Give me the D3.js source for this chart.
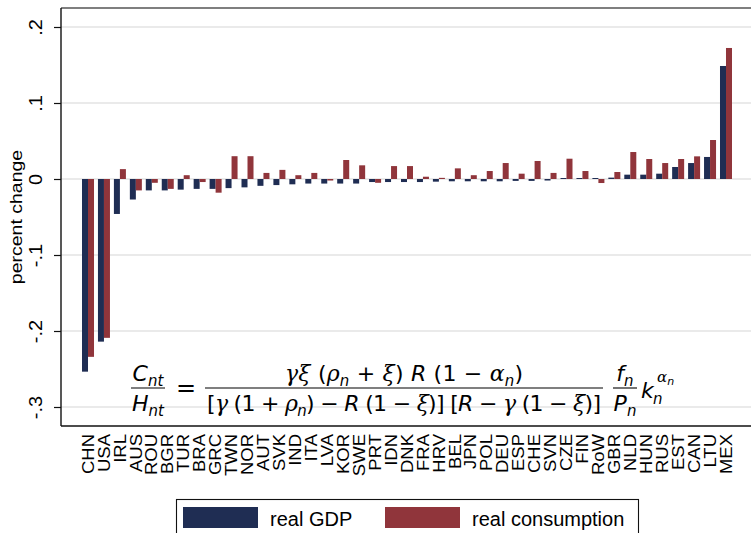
<!DOCTYPE html>
<html>
<head>
<meta charset="utf-8">
<script src="https://cdn.jsdelivr.net/npm/d3@7"></script>
<style>
  html, body { margin: 0; padding: 0; background: #fff; }
  svg { display: block; }
</style>
</head>
<body>
<svg id="chart" width="751" height="533"></svg>
<script>
// Countries in plotted order
const countries = ["CHN","USA","IRL","AUS","ROU","BGR","TUR","BRA","GRC","TWN","NOR","AUT","SVK","IND","ITA","LVA","KOR","SWE","PRT","IDN","DNK","FRA","HRV","BEL","JPN","POL","DEU","ESP","CHE","SVN","CZE","FIN","RoW","GBR","NLD","HUN","RUS","EST","CAN","LTU","MEX"];

// Percent change in real GDP
const realGDP = [-0.2535,-0.214,-0.046,-0.027,-0.015,-0.015,-0.014,-0.013,-0.013,-0.012,-0.011,-0.009,-0.008,-0.007,-0.006,-0.006,-0.006,-0.006,-0.004,-0.004,-0.004,-0.004,-0.0035,-0.003,-0.003,-0.003,-0.003,-0.0025,-0.0025,-0.002,0.0013,0.0013,0.0013,0.0018,0.0057,0.0057,0.007,0.0158,0.021,0.029,0.1487];

// Percent change in real consumption
const realConsumption = [-0.234,-0.209,0.013,-0.015,-0.005,-0.013,0.005,-0.004,-0.018,0.030,0.030,0.008,0.012,0.005,0.008,-0.002,0.025,0.018,-0.005,0.017,0.017,0.003,0.0015,0.014,0.005,0.0105,0.021,0.007,0.0237,0.008,0.0267,0.0105,-0.0053,0.0092,0.0355,0.0263,0.021,0.0263,0.0298,0.0513,0.1724];

const seriesKeys = ["gdp", "cons"];
const seriesNames = ["real GDP", "real consumption"];
const seriesColors = ["#1f2d53", "#90353b"];

const yTicks = [0.2, 0.1, 0, -0.1, -0.2, -0.3];
const yTickLabels = [".2", ".1", "0", "-.1", "-.2", "-.3"];

const svg = d3.select("#chart");
const plot = { left: 61, top: 8, right: 753, bottom: 426 };
const sans = "'Liberation Sans', Arial, sans-serif";

const y = d3.scaleLinear().domain([-0.325, 0.225]).range([plot.bottom, plot.top]);
const x = d3.scaleBand().domain(countries).range([plot.left, plot.right])
  .paddingInner(0.2476).paddingOuter(1.317);
const xs = d3.scaleBand().domain(seriesKeys).range([0, x.bandwidth()]).padding(0);

const rows = countries.map((c, i) => ({ country: c, gdp: realGDP[i], cons: realConsumption[i] }));

// gridlines
svg.append("g").selectAll("line").data(yTicks).join("line")
  .attr("x1", plot.left).attr("x2", plot.right)
  .attr("y1", d => y(d)).attr("y2", d => y(d))
  .attr("stroke", "#e3e3e3").attr("stroke-width", 1.6);

// bars
const groups = svg.append("g").selectAll("g").data(rows).join("g")
  .attr("transform", d => `translate(${x(d.country)},0)`);
seriesKeys.forEach((k, si) => {
  groups.append("rect")
    .attr("x", xs(k))
    .attr("width", xs.bandwidth())
    .attr("y", d => Math.min(y(0), y(d[k])))
    .attr("height", d => Math.abs(y(d[k]) - y(0)))
    .attr("fill", seriesColors[si]);
});

// frame
svg.append("line").attr("x1", plot.left).attr("x2", plot.right).attr("y1", plot.top).attr("y2", plot.top)
  .attr("stroke", "#555").attr("stroke-width", 1.6);
svg.append("line").attr("x1", plot.left).attr("x2", plot.right).attr("y1", plot.bottom).attr("y2", plot.bottom)
  .attr("stroke", "#111").attr("stroke-width", 1.4);

// y axis
const yAxis = d3.axisLeft(y).tickValues(yTicks).tickSize(7)
  .tickFormat((d, i) => yTickLabels[i]);
const gy = svg.append("g").attr("transform", `translate(${plot.left},0)`).call(yAxis);
gy.select(".domain").attr("stroke", "#111").attr("stroke-width", 1.4).attr("d", `M0,${plot.top}V${plot.bottom}`);
gy.selectAll(".tick line").attr("stroke", "#111").attr("stroke-width", 1.2);
gy.selectAll(".tick text").remove();
gy.selectAll(".tick").append("text")
  .attr("transform", "translate(-19,0) rotate(-90) scale(1,0.88)")
  .attr("text-anchor", "middle")
  .attr("fill", "#000")
  .style("font-family", sans)
  .style("font-size", "20px")
  .text((d, i) => yTickLabels[i]);

// y title
svg.append("text")
  .attr("transform", `translate(22,${(plot.top + plot.bottom) / 2}) rotate(-90) scale(1,0.88)`)
  .attr("text-anchor", "middle")
  .style("font-family", sans)
  .style("font-size", "19.5px")
  .text("percent change");

// x labels
svg.append("g").selectAll("text").data(countries).join("text")
  .attr("transform", d => `translate(${x(d) + x.bandwidth() / 2},434) rotate(-90) scale(1,0.85)`)
  .attr("text-anchor", "end")
  .attr("dy", "0.36em")
  .style("font-family", sans)
  .style("font-size", "18.5px")
  .text(d => d);

// equation
const eq = svg.append("g")
  .style("font-family", "'DejaVu Sans', sans-serif")
  .style("font-size", "22px");
function frac(g, cx, y0, w, num, den, widths) {
  g.append("line").attr("x1", cx - w / 2).attr("x2", cx + w / 2)
    .attr("y1", y0).attr("y2", y0).attr("stroke", "#000").attr("stroke-width", 1.1);
  const t1 = g.append("text").attr("x", cx).attr("y", y0 - 7).attr("text-anchor", "middle");
  num(t1);
  const t2 = g.append("text").attr("x", cx).attr("y", y0 + 23).attr("text-anchor", "middle");
  den(t2);
  if (widths) {
    t1.attr("textLength", widths[0]).attr("lengthAdjust", "spacing");
    t2.attr("textLength", widths[1]).attr("lengthAdjust", "spacing");
  }
}
function seg(t, s, opt = {}) {
  const ts = t.append("tspan").text(s);
  if (opt.it) ts.style("font-style", "italic");
  if (opt.serif) ts.style("font-family", "'DejaVu Serif', serif");
  if (opt.sub) ts.attr("dy", opt.sub).style("font-size", "15px");
  if (opt.up) ts.attr("dy", opt.up);
  return ts;
}
frac(eq, 148, 388, 34,
  t => { seg(t, "C", {it: true}); seg(t, "nt", {it: true, sub: 5}); },
  t => { seg(t, "H", {it: true}); seg(t, "nt", {it: true, sub: 5}); });
eq.append("text").attr("x", 186).attr("y", 396).attr("text-anchor", "middle").style("font-size", "24px").text("=");
frac(eq, 404, 388, 398,
  t => {
    seg(t, "γξ", {it: true, serif: true}); seg(t, " (");
    seg(t, "ρ", {it: true, serif: true}); seg(t, "n", {it: true, sub: 5});
    seg(t, " + ", {up: -5}); seg(t, "ξ", {it: true, serif: true}); seg(t, ") ");
    seg(t, "R", {it: true}); seg(t, " (1 − ");
    seg(t, "α", {it: true, serif: true}); seg(t, "n", {it: true, sub: 5});
    seg(t, ")", {up: -5});
  },
  t => {
    seg(t, "[");
    seg(t, "γ", {it: true, serif: true}); seg(t, " (1 + ");
    seg(t, "ρ", {it: true, serif: true}); seg(t, "n", {it: true, sub: 5});
    seg(t, ") − ", {up: -5}); seg(t, "R", {it: true}); seg(t, " (1 − ");
    seg(t, "ξ", {it: true, serif: true}); seg(t, ")] [");
    seg(t, "R", {it: true}); seg(t, " − ");
    seg(t, "γ", {it: true, serif: true}); seg(t, " (1 − ");
    seg(t, "ξ", {it: true, serif: true}); seg(t, ")]");
  }, [238, 394]);
frac(eq, 625, 388, 24,
  t => { seg(t, "f", {it: true}); seg(t, "n", {it: true, sub: 5}); },
  t => { seg(t, "P", {it: true}); seg(t, "n", {it: true, sub: 5}); });
const kt = eq.append("text").attr("x", 641).attr("y", 398);
seg(kt, "k", {it: true});
kt.append("tspan").attr("x", 653).attr("y", 404).style("font-size", "15px").style("font-style", "italic").text("n");
kt.append("tspan").attr("x", 657).attr("y", 382).style("font-size", "15px").style("font-style", "italic")
  .style("font-family", "'DejaVu Serif', serif").text("α");
kt.append("tspan").attr("y", 385).style("font-size", "11px").style("font-style", "italic").text("n");

// legend
const lg = svg.append("g");
lg.append("rect").attr("x", 176.5).attr("y", 499.5).attr("width", 462).attr("height", 50)
  .attr("fill", "#fff").attr("stroke", "#111").attr("stroke-width", 1.1);
const legendX = [183, 385];
seriesNames.forEach((name, i) => {
  lg.append("rect").attr("x", legendX[i]).attr("y", 507).attr("width", 75).attr("height", 21)
    .attr("fill", seriesColors[i]);
  lg.append("text").attr("x", legendX[i] + 87).attr("y", 526)
    .style("font-family", sans)
    .style("font-size", "20px")
    .text(name);
});
</script>
</body>
</html>
